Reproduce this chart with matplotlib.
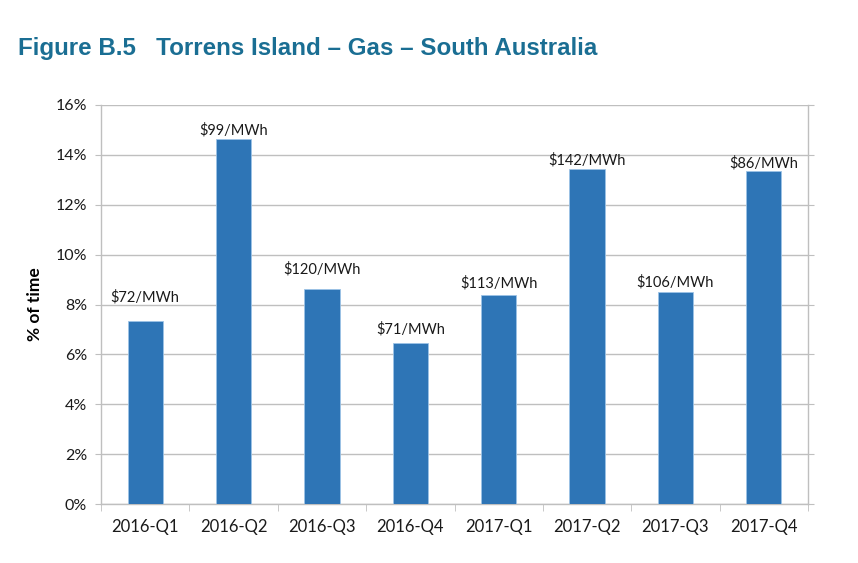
import matplotlib.pyplot as plt
import numpy as np

quarters = ['2016-Q1', '2016-Q2', '2016-Q3', '2016-Q4',
            '2017-Q1', '2017-Q2', '2017-Q3', '2017-Q4']
pct_time = [7.34, 14.62, 8.62, 6.44, 8.38, 13.42, 8.50, 13.34]
prices = ['$72/MWh', '$99/MWh', '$120/MWh', '$71/MWh',
          '$113/MWh', '$142/MWh', '$106/MWh', '$86/MWh']
y_ticks = [0, 2, 4, 6, 8, 10, 12, 14, 16]

# label gap above each bar in pixels (labels were nudged by hand in the original)
label_gap = [16, 2, 13, 7, 5, 2, 3, 1]

font = ['Lato', 'DejaVu Sans']
grid_col = '#BFBFBF'
bar_col = '#2E75B6'

fig = plt.figure(figsize=(8.58, 5.63), dpi=100)
ax = fig.add_axes([101/858, 1 - 504/563, 707/858, 399/563])

x = np.arange(len(quarters))
bars = ax.bar(x, pct_time, width=0.4, color=bar_col, edgecolor='#9DC3E6',
              linewidth=0.6, zorder=3)

for xi, v, lab, gap in zip(x, pct_time, prices, label_gap):
    ax.annotate(lab, (xi, v), xytext=(0, gap), textcoords='offset pixels',
                ha='center', va='bottom', fontsize=10.5, family=font,
                color='#1a1a1a', zorder=4)

ax.set_xlim(-0.5, len(quarters) - 0.5)
ax.set_ylim(0, 16)
ax.set_yticks(y_ticks)
ax.set_yticklabels([f'{t}%' for t in y_ticks], family=font, fontsize=11.5)
ax.set_xticks(x)
ax.set_xticklabels(quarters, family=font, fontsize=12)
ax.set_xticks(np.arange(-0.5, len(quarters)), minor=True)
ax.tick_params(axis='x', which='major', length=0, pad=11, colors='#1a1a1a')
ax.tick_params(axis='x', which='minor', length=5, direction='out', color=grid_col)
ax.tick_params(axis='y', which='major', length=4, direction='out', color=grid_col,
               right=True, colors='#1a1a1a', pad=6)
for t in ax.get_yticklines():
    t.set_color(grid_col)
for t in ax.xaxis.get_minorticklines():
    t.set_color(grid_col)

ax.grid(axis='y', color=grid_col, linewidth=1, zorder=0)
for s in ['left', 'right', 'bottom']:
    ax.spines[s].set_color(grid_col)
    ax.spines[s].set_linewidth(1)
ax.spines['top'].set_visible(False)

ax.set_ylabel('% of time', family=font, fontsize=12.5, fontweight='bold', labelpad=9)

fig.text(18/858, 1 - 49/563, 'Figure B.5   Torrens Island \u2013 Gas \u2013 South Australia',
         family=['Liberation Sans', 'DejaVu Sans'], fontsize=17.4, fontweight='bold',
         color='#1A6E93', va='center', ha='left')

fig.savefig('out.png', dpi=100)
